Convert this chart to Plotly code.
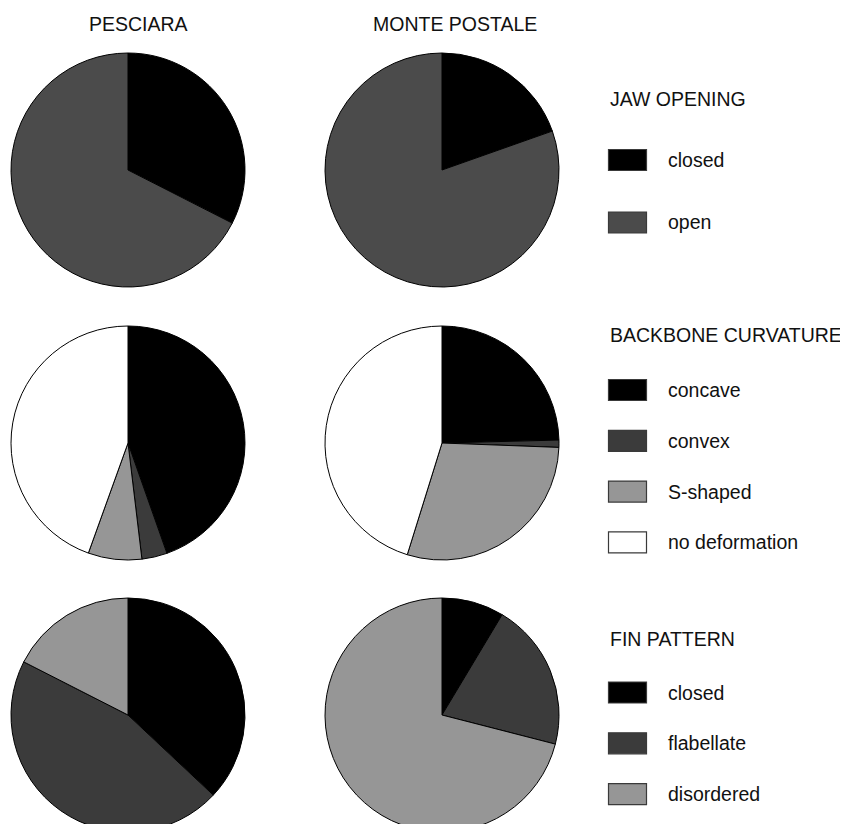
import plotly.graph_objects as go

# page body adds an 8px margin, so layout is worked out in screen pixels
OFF = 8
W, H = 840, 824

# Column titles (sites)
sites = ["PESCIARA", "MONTE POSTALE"]

# Jaw opening (%)
jaw_labels = ["closed", "open"]
jaw_pesciara = [32.5, 67.5]
jaw_monte = [19.6, 80.4]

# Backbone curvature (%)
backbone_labels = ["concave", "convex", "S-shaped", "no deformation"]
backbone_pesciara = [44.6, 3.5, 7.4, 44.5]
backbone_monte = [24.6, 1.0, 29.2, 45.2]

# Fin pattern (%)
fin_labels = ["closed", "flabellate", "disordered"]
fin_pesciara = [37.0, 45.5, 17.5]
fin_monte = [8.6, 20.4, 71.0]

jaw_colors = ["#000000", "#4b4b4b"]
backbone_colors = ["#000000", "#3b3b3b", "#969696", "#ffffff"]
fin_colors = ["#000000", "#3b3b3b", "#969696"]

groups = [
    ("JAW OPENING", jaw_labels, [jaw_pesciara, jaw_monte], jaw_colors),
    ("BACKBONE CURVATURE", backbone_labels, [backbone_pesciara, backbone_monte], backbone_colors),
    ("FIN PATTERN", fin_labels, [fin_pesciara, fin_monte], fin_colors),
]

# screen-pixel layout
col_x = [(11, 245), (325, 559)]
row_y = [(53, 287), (326, 560), (598, 832)]
legend_title_y = [99, 335, 639]
legend_first_y = [160, 390, 692.5]
legend_step = [62.5, 50.8, 50.8]
title_x = [138, 455]
FONT = 19.5


def px_x(x):
    return (x - OFF) / W


def px_y(y):
    return 1 - (y - OFF) / H


fig = go.Figure()
shapes = []
annotations = []

for r, (title, labels, series, colors) in enumerate(groups):
    y0, y1 = row_y[r]
    for c, vals in enumerate(series):
        x0, x1 = col_x[c]
        fig.add_trace(go.Pie(
            labels=labels, values=vals, sort=False, direction="clockwise",
            rotation=0, textinfo="none", hoverinfo="label+percent",
            marker=dict(colors=colors, line=dict(color="#000000", width=1)),
            domain=dict(x=[px_x(x0), px_x(x1)], y=[px_y(y1), px_y(y0)]),
            showlegend=False,
        ))

    # legend block drawn by hand
    annotations.append(dict(
        text=title, x=px_x(608), y=px_y(legend_title_y[r]), xref="paper", yref="paper",
        xanchor="left", yanchor="middle", showarrow=False,
        font=dict(size=FONT, color="#111111"),
    ))
    for i, (lab, col) in enumerate(zip(labels, colors)):
        cy = legend_first_y[r] + i * legend_step[r]
        shapes.append(dict(
            type="rect", xref="paper", yref="paper",
            x0=px_x(608.5), x1=px_x(646.5), y0=px_y(cy + 10.5), y1=px_y(cy - 10.5),
            fillcolor=col, line=dict(color="#3a3a3a", width=1.2),
        ))
        annotations.append(dict(
            text=lab, x=px_x(666), y=px_y(cy), xref="paper", yref="paper",
            xanchor="left", yanchor="middle", showarrow=False,
            font=dict(size=FONT, color="#111111"),
        ))

for c, site in enumerate(sites):
    annotations.append(dict(
        text=site, x=px_x(title_x[c]), y=px_y(24), xref="paper", yref="paper",
        xanchor="center", yanchor="middle", showarrow=False,
        font=dict(size=FONT, color="#111111"),
    ))

fig.update_layout(
    width=W, height=H,
    margin=dict(l=0, r=0, t=0, b=0),
    paper_bgcolor="white", plot_bgcolor="white",
    font=dict(family="Liberation Sans, Arial, sans-serif"),
    shapes=shapes, annotations=annotations,
)

fig.write_html("out.html")
